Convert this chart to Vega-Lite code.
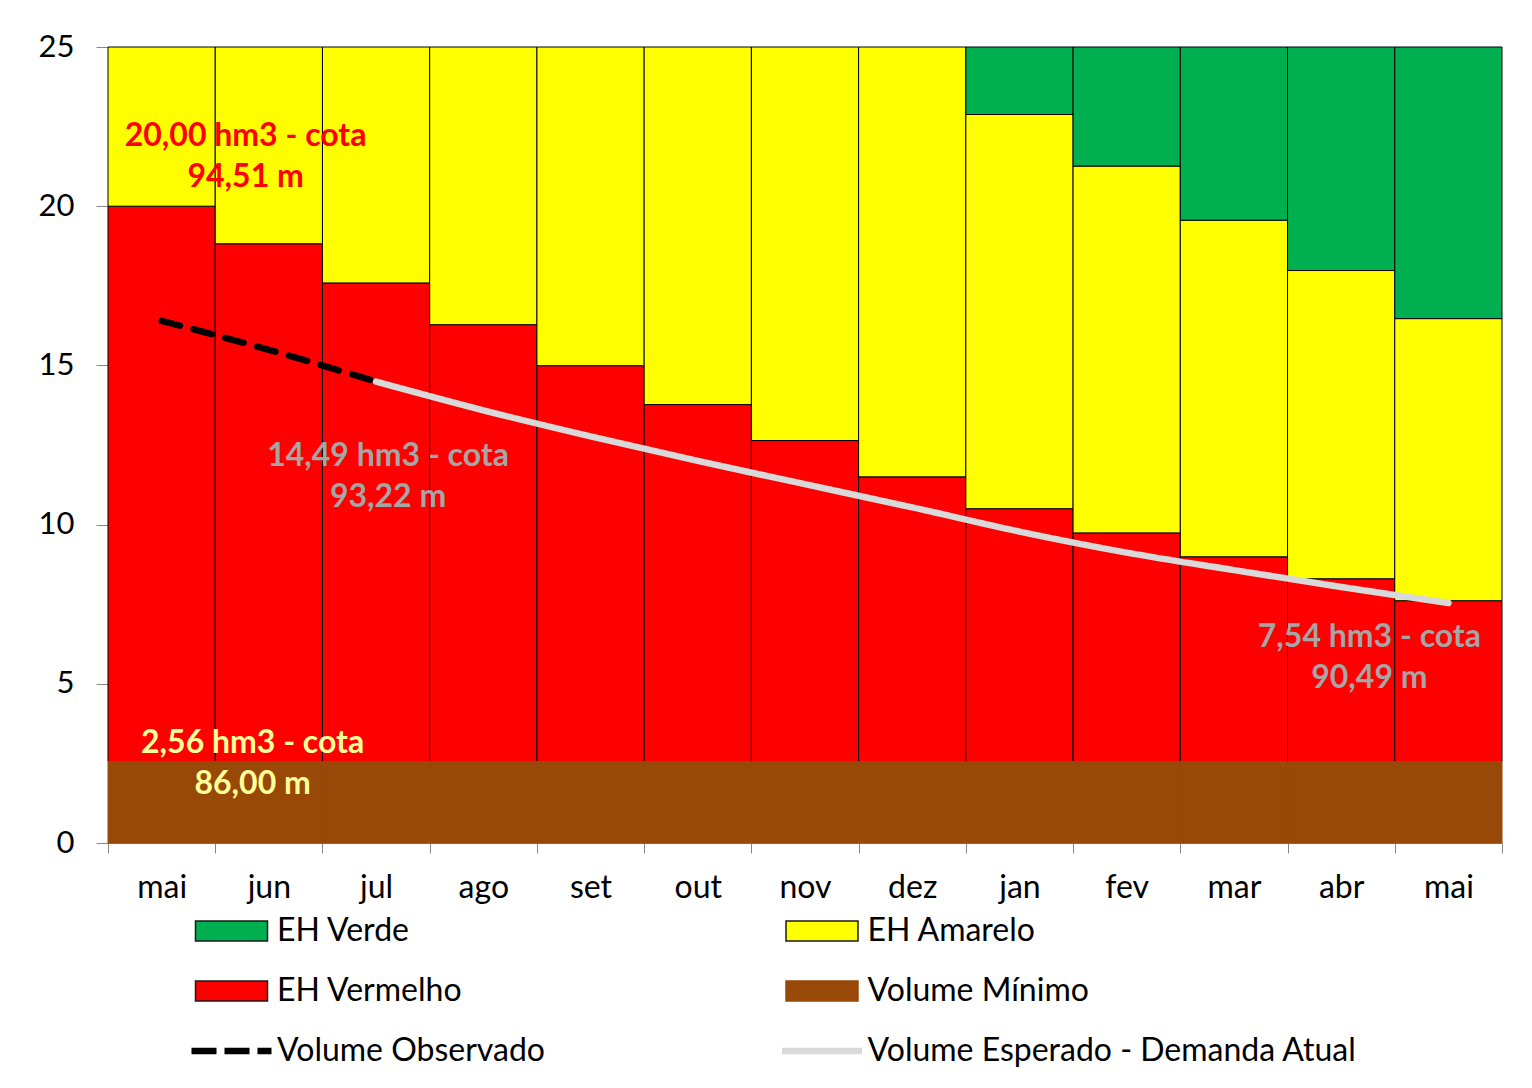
{
  "$schema": "https://vega.github.io/schema/vega-lite/v6.json",
  "width": 1394,
  "height": 796,
  "autosize": {"type": "none"},
  "padding": {"left": 108, "top": 47, "right": 30, "bottom": 245},
  "background": "white",
  "config": {"view": {"stroke": null}, "font": "Lato"},
  "datasets": {
    "faixas": [
      {"i": 0, "serie": "EH Vermelho", "base": 2.56, "topo": 20.0},
      {"i": 0, "serie": "EH Amarelo", "base": 20.0, "topo": 25},
      {"i": 1, "serie": "EH Vermelho", "base": 2.56, "topo": 18.82},
      {"i": 1, "serie": "EH Amarelo", "base": 18.82, "topo": 25},
      {"i": 2, "serie": "EH Vermelho", "base": 2.56, "topo": 17.59},
      {"i": 2, "serie": "EH Amarelo", "base": 17.59, "topo": 25},
      {"i": 3, "serie": "EH Vermelho", "base": 2.56, "topo": 16.28},
      {"i": 3, "serie": "EH Amarelo", "base": 16.28, "topo": 25},
      {"i": 4, "serie": "EH Vermelho", "base": 2.56, "topo": 14.99},
      {"i": 4, "serie": "EH Amarelo", "base": 14.99, "topo": 25},
      {"i": 5, "serie": "EH Vermelho", "base": 2.56, "topo": 13.77},
      {"i": 5, "serie": "EH Amarelo", "base": 13.77, "topo": 25},
      {"i": 6, "serie": "EH Vermelho", "base": 2.56, "topo": 12.64},
      {"i": 6, "serie": "EH Amarelo", "base": 12.64, "topo": 25},
      {"i": 7, "serie": "EH Vermelho", "base": 2.56, "topo": 11.5},
      {"i": 7, "serie": "EH Amarelo", "base": 11.5, "topo": 25},
      {"i": 8, "serie": "EH Vermelho", "base": 2.56, "topo": 10.5},
      {"i": 8, "serie": "EH Amarelo", "base": 10.5, "topo": 22.88},
      {"i": 8, "serie": "EH Verde", "base": 22.88, "topo": 25},
      {"i": 9, "serie": "EH Vermelho", "base": 2.56, "topo": 9.74},
      {"i": 9, "serie": "EH Amarelo", "base": 9.74, "topo": 21.26},
      {"i": 9, "serie": "EH Verde", "base": 21.26, "topo": 25},
      {"i": 10, "serie": "EH Vermelho", "base": 2.56, "topo": 8.99},
      {"i": 10, "serie": "EH Amarelo", "base": 8.99, "topo": 19.56},
      {"i": 10, "serie": "EH Verde", "base": 19.56, "topo": 25},
      {"i": 11, "serie": "EH Vermelho", "base": 2.56, "topo": 8.3},
      {"i": 11, "serie": "EH Amarelo", "base": 8.3, "topo": 17.98},
      {"i": 11, "serie": "EH Verde", "base": 17.98, "topo": 25},
      {"i": 12, "serie": "EH Vermelho", "base": 2.56, "topo": 7.61},
      {"i": 12, "serie": "EH Amarelo", "base": 7.61, "topo": 16.47},
      {"i": 12, "serie": "EH Verde", "base": 16.47, "topo": 25},
      {"i": 0, "serie": "Volume Mínimo", "base": 0, "topo": 2.56},
      {"i": 1, "serie": "Volume Mínimo", "base": 0, "topo": 2.56},
      {"i": 2, "serie": "Volume Mínimo", "base": 0, "topo": 2.56},
      {"i": 3, "serie": "Volume Mínimo", "base": 0, "topo": 2.56},
      {"i": 4, "serie": "Volume Mínimo", "base": 0, "topo": 2.56},
      {"i": 5, "serie": "Volume Mínimo", "base": 0, "topo": 2.56},
      {"i": 6, "serie": "Volume Mínimo", "base": 0, "topo": 2.56},
      {"i": 7, "serie": "Volume Mínimo", "base": 0, "topo": 2.56},
      {"i": 8, "serie": "Volume Mínimo", "base": 0, "topo": 2.56},
      {"i": 9, "serie": "Volume Mínimo", "base": 0, "topo": 2.56},
      {"i": 10, "serie": "Volume Mínimo", "base": 0, "topo": 2.56},
      {"i": 11, "serie": "Volume Mínimo", "base": 0, "topo": 2.56},
      {"i": 12, "serie": "Volume Mínimo", "base": 0, "topo": 2.56}
    ],
    "volumes": [
      {"i": 0, "serie": "Volume Observado", "volume": 16.4},
      {"i": 1, "serie": "Volume Observado", "volume": 15.49},
      {"i": 2, "serie": "Volume Observado", "volume": 14.49},
      {"i": 2, "serie": "Volume Esperado - Demanda Atual", "volume": 14.49},
      {"i": 3, "serie": "Volume Esperado - Demanda Atual", "volume": 13.59},
      {"i": 4, "serie": "Volume Esperado - Demanda Atual", "volume": 12.77},
      {"i": 5, "serie": "Volume Esperado - Demanda Atual", "volume": 12.0},
      {"i": 6, "serie": "Volume Esperado - Demanda Atual", "volume": 11.27},
      {"i": 7, "serie": "Volume Esperado - Demanda Atual", "volume": 10.54},
      {"i": 8, "serie": "Volume Esperado - Demanda Atual", "volume": 9.78},
      {"i": 9, "serie": "Volume Esperado - Demanda Atual", "volume": 9.12},
      {"i": 10, "serie": "Volume Esperado - Demanda Atual", "volume": 8.57},
      {"i": 11, "serie": "Volume Esperado - Demanda Atual", "volume": 8.04},
      {"i": 12, "serie": "Volume Esperado - Demanda Atual", "volume": 7.54}
    ],
    "rotulos": [
      {"i": 0, "ref": "EH Vermelho", "volume": 20.0, "texto": "20,00 hm3 - cota\n94,51 m"},
      {"i": 2, "ref": "Esperado início", "volume": 14.49, "texto": "14,49 hm3 - cota\n93,22 m"},
      {"i": 12, "ref": "Esperado fim", "volume": 7.54, "texto": "7,54 hm3 - cota\n90,49 m"},
      {"i": 0, "ref": "Volume Mínimo", "volume": 2.56, "texto": "2,56 hm3 - cota\n86,00 m"}
    ]
  },
  "encoding": {
    "x": {
      "field": "i",
      "type": "ordinal",
      "scale": {"domain": [0, 1, 2, 3, 4, 5, 6, 7, 8, 9, 10, 11, 12], "paddingInner": 0, "paddingOuter": 0},
      "axis": {
        "title": null,
        "labelExpr": "['mai','jun','jul','ago','set','out','nov','dez','jan','fev','mar','abr','mai'][datum.value]",
        "labelAngle": 0,
        "labelFont": "Lato",
        "labelFontSize": 32,
        "labelColor": "#000000",
        "labelPadding": 19,
        "tickBand": "extent",
        "tickSize": 10,
        "tickColor": "#868686",
        "domainColor": "#868686",
        "grid": false
      }
    }
  },
  "layer": [
    {
      "data": {"name": "faixas"},
      "mark": {"type": "bar", "strokeWidth": 1},
      "encoding": {
        "y": {
          "field": "base",
          "type": "quantitative",
          "scale": {"domain": [0, 25], "nice": false},
          "axis": {
            "title": null,
            "values": [0, 5, 10, 15, 20, 25],
            "grid": false,
            "labelFont": "Lato",
            "labelFontSize": 31,
            "labelColor": "#000000",
            "labelPadding": 22,
            "tickSize": 12,
            "tickColor": "#868686",
            "domainColor": "#868686"
          }
        },
        "y2": {"field": "topo"},
        "stroke": {"condition": {"test": "datum.serie === 'Volume Mínimo'", "value": "#984807"}, "value": "#000000"},
        "color": {
          "field": "serie",
          "type": "nominal",
          "scale": {
            "domain": ["EH Verde", "EH Amarelo", "EH Vermelho", "Volume Mínimo", "Volume Observado", "Volume Esperado - Demanda Atual"],
            "range": ["#00B050", "#FFFF00", "#FF0000", "#984807", "#000000", "#D9D9D9"]
          },
          "legend": {
            "orient": "none",
            "legendX": 77.5,
            "legendY": 868,
            "direction": "horizontal",
            "columns": 2,
            "title": null,
            "padding": 0,
            "symbolSize": 400,
            "symbolOffset": 30,
            "labelOffset": 29.5,
            "labelFont": "Lato",
            "labelFontSize": 32,
            "labelColor": "#000000",
            "labelLimit": 700,
            "rowPadding": 28,
            "columnPadding": 223.5,
            "gridAlign": "each",
            "symbolType": {"expr": "(datum.value === 'Volume Observado' || datum.value === 'Volume Esperado - Demanda Atual') ? 'M-4,0H4' : 'M-3.6,-1H3.6V1H-3.6Z'"},
            "symbolStrokeColor": {"expr": "(datum.value === 'Volume Observado' || datum.value === 'Volume Esperado - Demanda Atual' || datum.value === 'Volume Mínimo') ? scale('color', datum.value) : '#1a1a1a'"},
            "symbolStrokeWidth": {"expr": "(datum.value === 'Volume Observado' || datum.value === 'Volume Esperado - Demanda Atual') ? 6.5 : 1.5"},
            "symbolDash": {"expr": "datum.value === 'Volume Observado' ? [25, 8] : []"}
          }
        }
      }
    },
    {
      "data": {"name": "volumes"},
      "transform": [{"filter": "datum.serie === 'Volume Observado'"}],
      "mark": {"type": "line", "color": "#000000", "strokeWidth": 6.5, "strokeDash": [19, 14], "strokeCap": "round", "interpolate": "monotone"},
      "encoding": {
        "y": {"field": "volume", "type": "quantitative"},
        "detail": {"field": "serie", "type": "nominal"}
      }
    },
    {
      "data": {"name": "volumes"},
      "transform": [{"filter": "datum.serie === 'Volume Esperado - Demanda Atual'"}],
      "mark": {"type": "line", "color": "#D9D9D9", "strokeWidth": 6.5, "strokeCap": "round", "interpolate": "monotone"},
      "encoding": {
        "y": {"field": "volume", "type": "quantitative"},
        "detail": {"field": "serie", "type": "nominal"}
      }
    },
    {
      "data": {"name": "rotulos"},
      "transform": [{"filter": "datum.ref === 'EH Vermelho'"}],
      "mark": {"type": "text", "font": "Lato", "fontWeight": "bold", "fontSize": 32, "lineHeight": 41, "lineBreak": "\n", "align": "center", "baseline": "alphabetic", "color": "#FF0000", "dx": 84, "dy": -60},
      "encoding": {"y": {"field": "volume", "type": "quantitative"}, "text": {"field": "texto"}}
    },
    {
      "data": {"name": "rotulos"},
      "transform": [{"filter": "datum.ref === 'Esperado início'"}],
      "mark": {"type": "text", "font": "Lato", "fontWeight": "bold", "fontSize": 32, "lineHeight": 41, "lineBreak": "\n", "align": "center", "baseline": "alphabetic", "color": "#A6A6A6", "dx": 12, "dy": 84},
      "encoding": {"y": {"field": "volume", "type": "quantitative"}, "text": {"field": "texto"}}
    },
    {
      "data": {"name": "rotulos"},
      "transform": [{"filter": "datum.ref === 'Esperado fim'"}],
      "mark": {"type": "text", "font": "Lato", "fontWeight": "bold", "fontSize": 32, "lineHeight": 41, "lineBreak": "\n", "align": "center", "baseline": "alphabetic", "color": "#A6A6A6", "dx": -79, "dy": 44},
      "encoding": {"y": {"field": "volume", "type": "quantitative"}, "text": {"field": "texto"}}
    },
    {
      "data": {"name": "rotulos"},
      "transform": [{"filter": "datum.ref === 'Volume Mínimo'"}],
      "mark": {"type": "text", "font": "Lato", "fontWeight": "bold", "fontSize": 32, "lineHeight": 41, "lineBreak": "\n", "align": "center", "baseline": "alphabetic", "color": "#FFFF99", "dx": 91, "dy": -8},
      "encoding": {"y": {"field": "volume", "type": "quantitative"}, "text": {"field": "texto"}}
    }
  ]
}
